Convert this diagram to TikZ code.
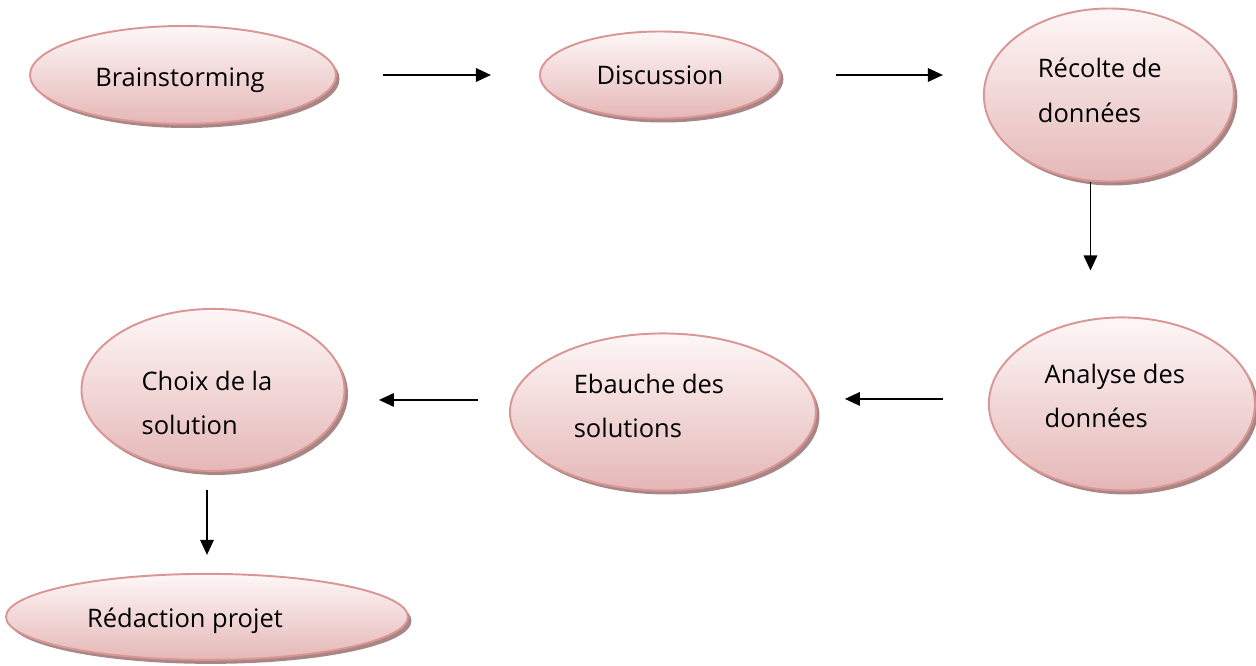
\documentclass[tikz,border=0pt]{standalone}
\usepackage{fontspec}
\setmainfont{Open Sans}
\usepackage{tikz}
\usetikzlibrary{arrows.meta, shapes, shadows, positioning}

\definecolor{ovtop}{RGB}{254,247,247}
\definecolor{ovbot}{RGB}{229,183,183}
\definecolor{ovline}{RGB}{217,150,149}
\definecolor{ovshade}{RGB}{168,134,134}

\begin{document}
\begin{tikzpicture}[
 thick,
 oval/.style={ellipse, draw=ovline, line width=1.1pt, inner sep=0pt,
   top color=ovtop, bottom color=ovbot,
   drop shadow={shadow xshift=0.07cm, shadow yshift=-0.08cm, fill=ovshade, opacity=1}},
 txt/.style={align=left, inner sep=0pt, font=\fontsize{14.5}{25.5}\selectfont},
 flow/.style={-{Triangle[length=0.30cm, width=0.27cm]}, line width=1pt}]

  \useasboundingbox (0,0) rectangle (25.12,13.30);

  \node[oval, minimum width=6.12cm, minimum height=1.96cm,
    label={[txt, xshift=-0.06cm, yshift=-0.10cm]center:Brainstorming}] (brain) at (3.66,11.80) {};
  \node[oval, minimum width=4.80cm, minimum height=1.74cm,
    label={[txt]center:Discussion}] (disc) [right=4.04cm of brain] {};
  \node[oval, minimum width=5.00cm, minimum height=3.46cm,
    label={[txt, xshift=-0.18cm, yshift=0.10cm]center:{Récolte de\\données}}] (recolte) [right=4.04cm of disc, yshift=-0.4cm] {};
  \node[oval, minimum width=5.32cm, minimum height=3.46cm,
    label={[txt, xshift=-0.14cm, yshift=0.16cm]center:{Analyse des\\données}}] (analyse) [below=2.68cm of recolte, xshift=0.26cm] {};
  \node[oval, minimum width=6.12cm, minimum height=3.14cm,
    label={[txt, xshift=-0.28cm, yshift=0.12cm]center:{Ebauche des\\solutions}}] (ebauche) [left=3.42cm of analyse, yshift=-0.16cm] {};
  \node[oval, minimum width=5.26cm, minimum height=3.24cm,
    label={[txt, xshift=-0.12cm, yshift=-0.26cm]center:{Choix de la\\solution}}] (choix) [left=3.27cm of ebauche, yshift=0.44cm] {};
  \node[oval, minimum width=8.04cm, minimum height=1.72cm,
    label={[txt, xshift=-0.44cm, yshift=-0.08cm]center:Rédaction projet}] (redac) [below=2.02cm of choix, xshift=-0.12cm] {};

  \draw[flow, shorten <=0.92cm, shorten >=0.96cm] (brain.east) -- (disc.west);
  \draw[flow, shorten <=1.10cm, shorten >=0.80cm] (disc.east) -- (disc.east -| recolte.west);
  \draw[flow, shorten >=0.92cm] (recolte.258) -- (recolte.258 |- analyse.north);
  \draw[flow, shorten <=0.90cm, shorten >=0.56cm] ([yshift=0.10cm]analyse.west) -- ([yshift=0.10cm]analyse.west -| ebauche.east);
  \draw[flow, shorten <=0.62cm, shorten >=0.67cm] ([yshift=0.24cm]ebauche.west) -- ([yshift=0.24cm]ebauche.west -| choix.east);
  \draw[flow, shorten <=0.36cm, shorten >=0.36cm] (choix.south -| redac.north) -- (redac.north);

\end{tikzpicture}
\end{document}
